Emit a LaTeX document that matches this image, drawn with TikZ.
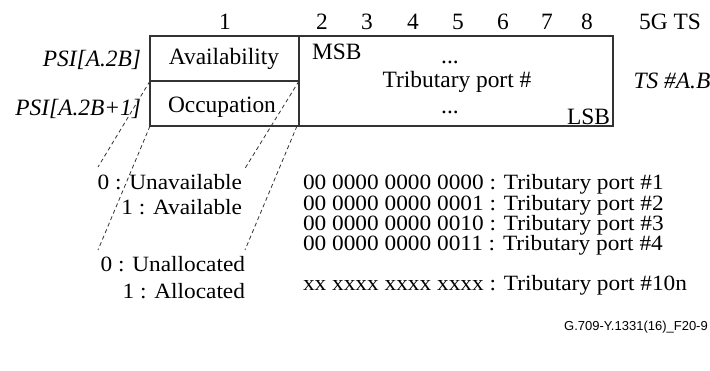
\documentclass[tikz,border=0pt]{standalone}
\usepackage{fontspec}
\setmainfont{Liberation Serif}
\newfontfamily\labelsans{Liberation Sans}
\newfontfamily\rowfont{Liberation Serif}[FakeStretch=1.07]
\begin{document}
\begin{tikzpicture}[x=1pt,y=-1pt,
  txt/.style={inner sep=0pt,outer sep=0pt,font=\fontsize{23.4}{23.4}\selectfont},
  itxt/.style={txt,font=\fontsize{23.4}{23.4}\selectfont\itshape},
  row/.style={inner sep=0pt,outer sep=0pt,font=\rowfont\fontsize{21.8}{21.8}\selectfont,text height=14pt,text depth=4pt},
  frame/.style={draw=black!80,line width=1.2pt},
  dashlink/.style={draw=black!80,line width=0.8pt,dash pattern=on 4pt off 3pt}]
\useasboundingbox (0,0) rectangle (710,371);
% frame
\coordinate (tl) at (150,36);
\coordinate (br) at (613,126);
\coordinate (aL) at (150,81);
\coordinate (aR) at (299,81);
\coordinate (oL) at (150,126);
\coordinate (oR) at (299,126);
\coordinate (cT) at (299,36);
\draw[frame] (tl) rectangle (br);
\draw[frame] (aL) -- (aR);
\draw[frame] (cT) -- (oR);
% column numbers
\node[txt] (c1) at (225,22) {1};
\node[txt] (c2) at (322,22) {2};
\node[txt] (c3) at (367,22) {3};
\node[txt] (c4) at (413,22) {4};
\node[txt] (c5) at (458,22) {5};
\node[txt] (c6) at (503,22) {6};
\node[txt] (c7) at (547,22) {7};
\node[txt] (c8) at (587,22) {8};
\node[txt] (c5g) at (670,22) {5G TS};
% left labels
\node[itxt,anchor=east] (psi1) at (141,60) {PSI[A.2B]};
\node[itxt,anchor=east] (psi2) at (141,109) {PSI[A.2B+1]};
% cells
\node[txt] (avail) at (224,59) {Availability};
\node[txt] (occ) at (222,107) {Occupation};
\node[txt,anchor=west] (msb) at (312,52) {MSB};
\node[txt,anchor=base] (dots1) at (450,64) {...};
\node[txt] (tp) at (457,82) {Tributary port \#};
\node[txt,anchor=base] (dots2) at (450,114) {...};
\node[txt,anchor=east] (lsb) at (610,117) {LSB};
\node[itxt] (ts) at (672,81) {TS \#A.B};
% legends
\node[row,anchor=base east] (u0) at (242,190) {0 : Unavailable};
\node[row,anchor=base east] (u1) at (242,215) {1 : Available};
\node[row,anchor=base east] (a0) at (245,272) {0 : Unallocated};
\node[row,anchor=base east] (a1) at (245,299) {1 : Allocated};
\node[row,anchor=base west] (p1) at (303,190) {00 0000 0000 0000 : Tributary port \#1};
\node[row,anchor=base west] (p2) at (303,210.3) {00 0000 0000 0001 : Tributary port \#2};
\node[row,anchor=base west] (p3) at (303,230.6) {00 0000 0000 0010 : Tributary port \#3};
\node[row,anchor=base west] (p4) at (303,250.9) {00 0000 0000 0011 : Tributary port \#4};
\node[row,anchor=base west] (pn) at (303,291) {xx xxxx xxxx xxxx : Tributary port \#10n};
\node[inner sep=0pt,anchor=east,font=\labelsans\fontsize{13}{13}\selectfont] (fig) at (708,327) {G.709-Y.1331(16)\_F20-9};
% dashed links
\coordinate (d1) at (98,167);
\coordinate (d2) at (244,170);
\coordinate (d3) at (98,250);
\coordinate (d4) at (245,250);
\draw[dashlink] (aL) -- (d1);
\draw[dashlink] (aR) -- (d2);
\draw[dashlink] (oL) -- (d3);
\draw[dashlink] (297,126) -- (d4);
\end{tikzpicture}
\end{document}
